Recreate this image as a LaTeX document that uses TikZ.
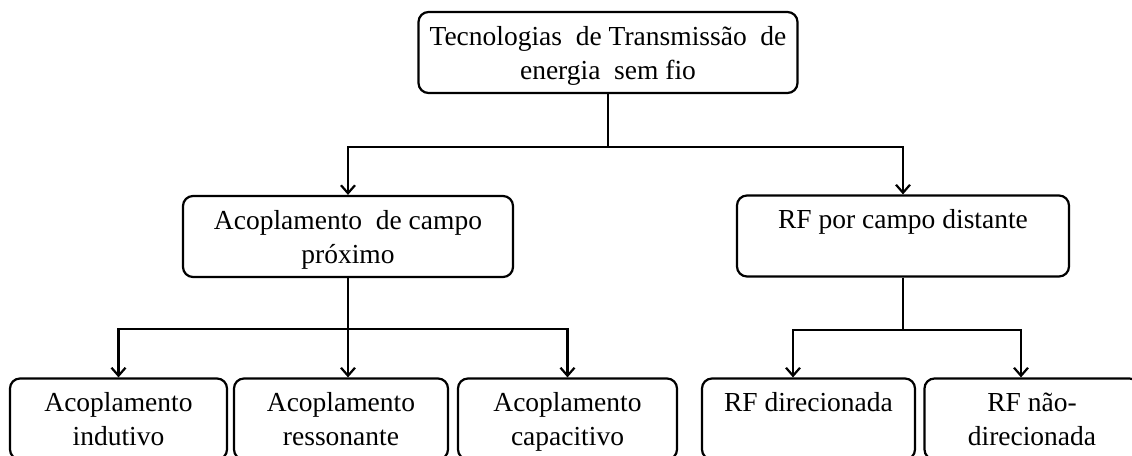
\documentclass[tikz,border=0pt]{standalone}
\usepackage{fontspec}
\setmainfont{Liberation Serif}
\usetikzlibrary{arrows.meta}

\begin{document}
\begin{tikzpicture}[x=1pt, y=-1pt, line width=2.2pt,
            every node/.style={draw,line width=2.2pt,rounded corners=10pt,align=flush center,inner sep=0pt,minimum height=81pt,
                font=\fontsize{27.5}{34}\selectfont,
                execute at begin node=\rule{0pt}{26pt},execute at end node=\rule[-7pt]{0pt}{7pt}},
            boxw/.style={minimum width=#1, text width=#1}]
            \useasboundingbox (0,0) rectangle (1132,455);
            \node(tech) at (608, 52.5) [boxw=379pt] {Tecnologias\ \ de Transmissão\ \ de\\energia\ \ sem fio};
            \node(prox) at (348, 236.5) [boxw=330pt] {Acoplamento\ \ de campo\\próximo};
            \node(far) at (903, 236) [boxw=332pt] {RF por campo distante\\\mbox{}};
            \node(ind) at (118.5, 419) [boxw=217pt] {Acoplamento\\indutivo};
            \node(res) at (341, 419) [boxw=214pt] {Acoplamento\\ressonante};
            \node(cap) at (567.5, 419) [boxw=219pt] {Acoplamento\\capacitivo};
            \node(dir) at (808.5, 419) [boxw=213pt] {RF direcionada\\\mbox{}};
            \node(ndir) at (1032, 419) [boxw=215pt] {RF não-\\direcionada};

            \begin{scope}[-{Straight Barb[length=8pt,width=14pt]}]
                \draw(tech.south) -- ++(0, 53) -| (prox.north);
                \draw(tech.south) -- ++(0, 53) -| (far.north);
                \draw(prox.south) -- ++(0, 51) -| (ind.north);
                \draw(prox.south) -- (prox.south |- res.north);
                \draw(prox.south) -- ++(0, 51) -| (cap.north);
                \draw(far.south) -- ++(0, 52) -| ([xshift=-15.5pt]dir.north);
                \draw(far.south) -- ++(0, 52) -| ([xshift=-11pt]ndir.north);
            \end{scope}
        \end{tikzpicture}
\end{document}
